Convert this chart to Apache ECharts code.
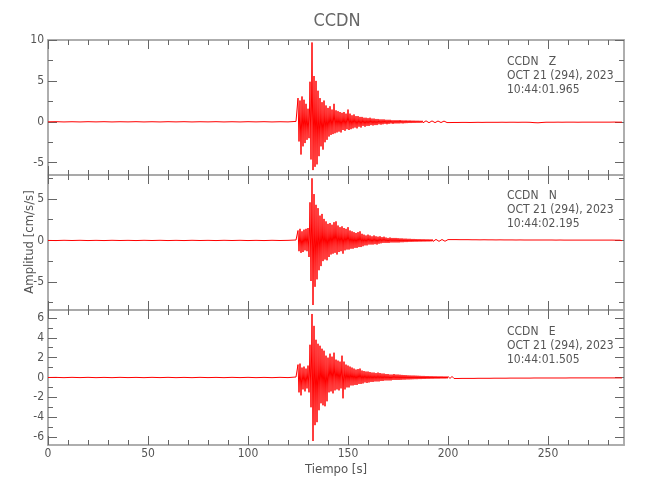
<!DOCTYPE html>
<html><head><meta charset="utf-8">
<script src="https://cdn.jsdelivr.net/npm/echarts@6/dist/echarts.min.js"></script>
<style>html,body{margin:0;padding:0;background:#fff}#c{width:650px;height:500px}</style>
</head><body><div id="c"></div>
<script>
// ---------- text ----------
const station = 'CCDN';
const components = ['Z', 'N', 'E'];
const dateLine = 'OCT 21 (294), 2023';
const startTimes = ['10:44:01.965', '10:44:02.195', '10:44:01.505'];
const xTitle = 'Tiempo [s]';
const yTitle = 'Amplitud [cm/s/s]';

// ---------- axes ----------
const xRange = [0, 288];
const xMajorTicks = [0, 50, 100, 150, 200, 250];
const xTickLabels = [0, 50, 100, 150, 200, 250];
const xMinorTicks = [10, 20, 30, 40, 60, 70, 80, 90, 110, 120, 130, 140, 160, 170, 180, 190, 210, 220, 230, 240, 260, 270, 280];
const zRange = [-6.5, 10];
const nRange = [-8.4, 7.9];
const eRange = [-6.8, 6.8];
const zMajorTicks = [-5, 0, 5, 10];
const zMinorTicks = [-2.5, 2.5, 7.5];
const nMajorTicks = [-5, 0, 5];
const nMinorTicks = [-7.5, -2.5, 2.5, 7.5];
const eMajorTicks = [-6, -4, -2, 0, 2, 4, 6];
const eMinorTicks = [-5, -3, -1, 1, 3, 5];

// ---------- samples (peak/trough values) ----------
const preStart = 0, preStep = 4;      // seconds
const mainStart = 124, mainStep = 0.5;
const codaStart = 201, codaStep = 1;

const zPre = [0, 0.015, -0.015, 0.01, -0.015, 0.015, -0.01, 0.015, -0.015, 0.01, -0.01, 0.015, -0.015, 0.01, -0.015, 0.015, -0.01, 0.015, -0.015, 0.01, -0.01, 0.015, -0.015, 0.01, -0.015, 0.015, -0.01, 0.015, -0.015, 0.01, -0.01];
const zMain = [
  0.05, -0.1, 2.9, -2.4, 2.6, -4.0, 3.1, -3.0, 2.7, -2.6,
  2.2, -2.2, 1.6, -2.0, 4.9, -4.6, 9.7, -5.9, 5.6, -5.5,
  5.0, -5.2, 3.8, -4.2, 2.9, -3.0, 2.4, -3.4, 2.6, -2.5,
  2.0, -2.2, 1.7, -1.8, 1.9, -1.6, 1.5, -1.5, 2.2, -1.4,
  1.4, -1.3, 1.3, -1.2, 1.2, -1.3, 1.1, -1.0, 1.2, -1.1,
  1.0, -0.9, 1.5, -1.0, 1.0, -0.9, 0.8, -0.8, 0.9, -0.7,
  0.7, -0.8, 0.7, -0.6, 0.6, -0.7, 0.6, -0.5, 0.5, -0.6,
  0.5, -0.5, 0.45, -0.5, 0.5, -0.4, 0.4, -0.45, 0.4, -0.4,
  0.35, -0.4, 0.35, -0.3, 0.3, -0.35, 0.3, -0.3, 0.3, -0.25,
  0.25, -0.3, 0.25, -0.25, 0.25, -0.2, 0.2, -0.25, 0.2, -0.2, 0.2,
  -0.2, 0.2, -0.2, 0.22, -0.18, 0.18, -0.2, 0.17, -0.17, 0.18,
  -0.16, 0.16, -0.15, 0.17, -0.15, 0.15, -0.14, 0.15, -0.14, 0.14,
  -0.13, 0.14, -0.13, 0.13, -0.12, 0.13, -0.12, 0.12, -0.12, 0.12,
  -0.11, 0.12, -0.11, 0.11, -0.11, 0.11, -0.1, 0.11, -0.1, 0.1,
  -0.1, 0.1, -0.1, 0.1, -0.09, 0.1, -0.09, 0.09, -0.09, 0.09,
  -0.09, 0.09];
const zCoda = [
  -0.09, 0.08, -0.08, 0.09, -0.08, 0.08, -0.07, 0.08, -0.07, 0.07,
  -0.08, 0.07, -0.07, 0.07, -0.06, 0.07, -0.07, 0.06, -0.06, 0.07,
  -0.06, 0.06, -0.06, 0.06, -0.06, 0.06, -0.05, 0.06, -0.06, 0.06,
  -0.05, 0.06, -0.05, 0.05, -0.06, 0.05, -0.05, 0.05, -0.05, 0.05,
  -0.06, 0.08, -0.1, 0.12, -0.12, 0.1, -0.08, 0.06, -0.05, 0.05,
  -0.05, 0.05, -0.05, 0.05, -0.04, 0.05, -0.05, 0.04, -0.04, 0.05,
  -0.04, 0.04, -0.04, 0.04, -0.05, 0.04, -0.04, 0.04, -0.04, 0.04,
  -0.04, 0.04, -0.04, 0.04, -0.04, 0.04, -0.04, 0.04, -0.04, 0.04,
  -0.04, 0.04, -0.03, 0.04, -0.04, 0.03, -0.04];

const nPre = [0, -0.015, 0.015, -0.01, 0.015, -0.015, 0.01, -0.015, 0.015, -0.01, 0.01, -0.015, 0.015, -0.01, 0.015, -0.015, 0.01, -0.015, 0.015, -0.01, 0.01, -0.015, 0.015, -0.01, 0.015, -0.015, 0.01, -0.015, 0.015, -0.01, 0.01];
const nMain = [
  0.05, -0.1, 1.2, -1.3, 1.4, -1.5, 1.1, -1.4, 1.3, -1.2,
  1.4, -1.3, 1.5, -2.0, 4.6, -4.9, 7.5, -7.8, 5.6, -5.6,
  4.3, -4.7, 3.9, -3.6, 3.0, -3.1, 3.2, -2.5, 2.6, -2.3,
  2.3, -2.4, 2.0, -2.0, 2.1, -1.7, 1.9, -1.6, 2.2, -1.5,
  2.3, -1.7, 1.8, -1.4, 1.6, -1.3, 1.7, -1.6, 1.5, -1.2,
  1.4, -1.1, 1.6, -1.1, 1.2, -1.0, 1.1, -1.0, 1.0, -0.9,
  0.9, -0.9, 1.0, -0.8, 1.1, -0.8, 0.8, -0.7, 0.7, -0.6,
  0.6, -0.6, 0.7, -0.5, 0.6, -0.5, 0.5, -0.5, 0.6, -0.45,
  0.5, -0.5, 0.45, -0.4, 0.5, -0.35, 0.4, -0.3, 0.45, -0.3,
  0.35, -0.3, 0.3, -0.3, 0.35, -0.25, 0.3, -0.25, 0.3, -0.25, 0.3,
  -0.25, 0.28, -0.25, 0.25, -0.22, 0.25, -0.22, 0.22, -0.2, 0.22,
  -0.2, 0.2, -0.18, 0.2, -0.18, 0.18, -0.17, 0.18, -0.16, 0.17,
  -0.16, 0.16, -0.15, 0.16, -0.15, 0.15, -0.14, 0.15, -0.14, 0.14,
  -0.13, 0.14, -0.13, 0.13, -0.12, 0.13, -0.12, 0.12, -0.12, 0.12,
  -0.11, 0.12, -0.11, 0.11, -0.11, 0.11, -0.1, 0.11, -0.1, 0.1,
  -0.1, 0.1];
const nCoda = [
  -0.1, 0.1, -0.09, 0.1, -0.09, 0.09, -0.09, 0.09, -0.08, 0.09,
  -0.08, 0.08, -0.08, 0.08, -0.08, 0.07, -0.07, 0.08, -0.07, 0.07,
  -0.07, 0.07, -0.07, 0.06, -0.06, 0.07, -0.06, 0.06, -0.06, 0.06,
  -0.06, 0.06, -0.06, 0.05, -0.05, 0.06, -0.05, 0.05, -0.05, 0.05,
  -0.05, 0.05, -0.05, 0.05, -0.05, 0.05, -0.05, 0.05, -0.04, 0.05,
  -0.04, 0.05, -0.04, 0.04, -0.04, 0.05, -0.04, 0.04, -0.04, 0.04,
  -0.04, 0.04, -0.04, 0.04, -0.04, 0.04, -0.04, 0.04, -0.04, 0.04,
  -0.04, 0.04, -0.03, 0.04, -0.03, 0.04, -0.03, 0.04, -0.03, 0.04,
  -0.03, 0.04, -0.03, 0.03, -0.03, 0.03, -0.03];

const ePre = [0, 0.01, -0.015, 0.015, -0.01, 0.015, -0.015, 0.01, -0.015, 0.015, -0.01, 0.01, -0.015, 0.015, -0.01, 0.015, -0.015, 0.01, -0.015, 0.015, -0.01, 0.01, -0.015, 0.015, -0.01, 0.015, -0.015, 0.01, -0.015, 0.015, -0.01];
const eMain = [
  0.05, -0.1, 1.3, -1.5, 1.4, -1.8, 1.0, -1.2, 1.1, -1.4,
  0.9, -1.1, 1.2, -1.5, 3.3, -3.0, 6.4, -6.4, 5.2, -4.8,
  3.8, -4.5, 3.4, -3.3, 3.2, -2.6, 2.9, -2.8, 2.7, -2.9,
  2.2, -2.4, 2.0, -1.5, 2.4, -1.4, 2.1, -1.6, 2.5, -1.3,
  1.8, -1.2, 1.7, -1.3, 1.6, -1.1, 2.2, -2.1, 1.6, -1.2,
  1.3, -1.0, 1.2, -1.0, 1.1, -0.8, 1.0, -0.8, 0.9, -0.75,
  0.8, -0.75, 0.85, -0.65, 0.9, -0.65, 0.7, -0.6, 0.65, -0.5,
  0.6, -0.55, 0.6, -0.5, 0.55, -0.45, 0.5, -0.45, 0.5, -0.4,
  0.45, -0.4, 0.5, -0.4, 0.45, -0.35, 0.4, -0.35, 0.4, -0.3,
  0.35, -0.3, 0.35, -0.3, 0.3, -0.3, 0.3, -0.25, 0.35, -0.25, 0.3,
  -0.25, 0.3, -0.25, 0.28, -0.24, 0.26, -0.22, 0.25, -0.22, 0.24,
  -0.2, 0.22, -0.2, 0.21, -0.19, 0.2, -0.18, 0.2, -0.17, 0.19,
  -0.17, 0.18, -0.16, 0.17, -0.16, 0.16, -0.15, 0.16, -0.15, 0.15,
  -0.14, 0.15, -0.14, 0.14, -0.13, 0.14, -0.13, 0.13, -0.12, 0.13,
  -0.12, 0.12, -0.12, 0.12, -0.11, 0.12, -0.11, 0.11, -0.11, 0.11,
  -0.1, 0.11];
const eCoda = [
  -0.1, 0.11, -0.1, 0.1, -0.1, 0.1, -0.09, 0.1, -0.09, 0.09,
  -0.09, 0.09, -0.09, 0.08, -0.08, 0.09, -0.08, 0.08, -0.08, 0.08,
  -0.08, 0.07, -0.07, 0.08, -0.07, 0.07, -0.07, 0.07, -0.07, 0.07,
  -0.06, 0.07, -0.06, 0.06, -0.06, 0.06, -0.06, 0.06, -0.06, 0.06,
  -0.06, 0.06, -0.05, 0.06, -0.05, 0.05, -0.05, 0.05, -0.05, 0.05,
  -0.05, 0.05, -0.05, 0.05, -0.05, 0.05, -0.05, 0.05, -0.05, 0.05,
  -0.04, 0.05, -0.04, 0.05, -0.04, 0.04, -0.04, 0.04, -0.04, 0.04,
  -0.04, 0.04, -0.04, 0.04, -0.04, 0.04, -0.04, 0.04, -0.04, 0.04,
  -0.04, 0.04, -0.04, 0.04, -0.04, 0.04, -0.04];

// ---------- build ----------
function build(pre, main, coda) {
  const d = [];
  pre.forEach((v, i) => d.push([preStart + i * preStep, v]));
  main.forEach((v, i) => d.push([mainStart + i * mainStep, v]));
  coda.forEach((v, i) => d.push([codaStart + i * codaStep, v]));
  return d;
}
const traces = [build(zPre, zMain, zCoda), build(nPre, nMain, nCoda), build(ePre, eMain, eCoda)];
const yRanges = [zRange, nRange, eRange];
const yMajor = [zMajorTicks, nMajorTicks, eMajorTicks];
const yMinor = [zMinorTicks, nMinorTicks, eMinorTicks];

const FF = "'Liberation Sans Narrow', 'DejaVu Sans Condensed', 'Roboto', sans-serif";
const LINE = '#a9a9a9', TICK = '#666', TXT = '#555';
const gridTops = [40, 175, 310];
const grids = gridTops.map(t => ({left: 48, right: 26, top: t, height: 135, containLabel: false}));

const xAxes = [], yAxes = [], series = [], graphic = [];
function axisBase(extra) {
  return Object.assign({
    type: 'value', splitLine: {show: false},
    axisLine: {show: true, onZero: false, lineStyle: {color: LINE, width: 1.5}},
  }, extra);
}
for (let g = 0; g < 3; g++) {
  const isLast = g === 2;
  [['bottom', xMajorTicks, 9, isLast], ['bottom', xMinorTicks, 5, false],
   ['top', xMajorTicks, 9, false], ['top', xMinorTicks, 5, false]].forEach(([pos, vals, len, lab]) => {
    xAxes.push(axisBase({
      gridIndex: g, position: pos, min: xRange[0], max: xRange[1],
      axisTick: {show: true, inside: true, length: len, customValues: vals, lineStyle: {color: TICK, width: 1}},
      axisLabel: lab ? {show: true, customValues: xTickLabels, margin: 3, color: TXT, fontSize: 12, fontFamily: FF} : {show: false}
    }));
  });
  [['left', yMajor[g], 9, true], ['left', yMinor[g], 5, false],
   ['right', yMajor[g], 9, false], ['right', yMinor[g], 5, false]].forEach(([pos, vals, len, lab]) => {
    yAxes.push(axisBase({
      gridIndex: g, position: pos, min: yRanges[g][0], max: yRanges[g][1],
      axisTick: {show: true, inside: true, length: len, customValues: vals, lineStyle: {color: TICK, width: 1}},
      axisLabel: lab ? {show: true, customValues: vals, margin: 4, color: TXT, fontSize: 12, fontFamily: FF} : {show: false}
    }));
  });
  series.push({
    type: 'line', xAxisIndex: 4 * g, yAxisIndex: 4 * g, data: traces[g],
    showSymbol: false, symbol: 'none', sampling: null, clip: true, silent: true,
    lineStyle: {color: '#ff0000', width: 1}
  });
  const ty = [62, 196, 332][g];
  [station + '   ' + components[g], dateLine, startTimes[g]].forEach((s, k) => {
    graphic.push({type: 'text', x: 507, y: ty + k * 13.7, silent: true,
      style: {text: s, fill: TXT, font: '12px ' + FF, align: 'left', verticalAlign: 'middle'}});
  });
}

graphic.push({type: 'text', x: 337, y: 21, silent: true,
  style: {text: station, fill: '#666', font: '18px ' + FF, align: 'center', verticalAlign: 'middle'}});
graphic.push({type: 'text', x: 336, y: 470, silent: true,
  style: {text: xTitle, fill: TXT, font: '13px ' + FF, align: 'center', verticalAlign: 'middle'}});
graphic.push({type: 'text', x: 30, y: 242, rotation: Math.PI / 2, silent: true,
  style: {text: yTitle, fill: TXT, font: '13px ' + FF, align: 'center', verticalAlign: 'middle'}});

const chart = echarts.init(document.getElementById('c'), null, {renderer: 'canvas'});
chart.setOption({
  animation: false, backgroundColor: '#fff',
  grid: grids, xAxis: xAxes, yAxis: yAxes, series: series, graphic: graphic
});
</script></body></html>
